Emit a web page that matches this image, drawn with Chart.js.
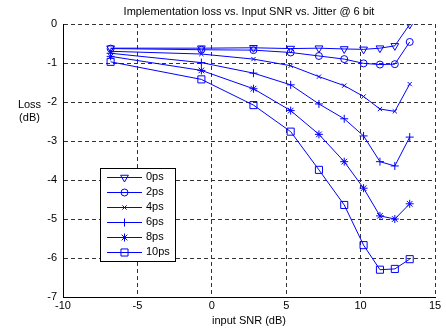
<!DOCTYPE html>
<html>
<head>
<meta charset="utf-8">
<script src="https://cdn.jsdelivr.net/npm/chart.js@4/dist/chart.umd.min.js"></script>
<style>
  html, body { margin: 0; padding: 0; background: #fff; }
  #wrap { width: 446px; height: 329px; }
</style>
</head>
<body>
<div id="wrap"><canvas id="c" width="446" height="329"></canvas></div>
<script>
// ---- data ----
const snr = [-6.8, -0.7, 2.8, 5.3, 7.2, 8.9, 10.2, 11.3, 12.3, 13.3];
const seriesNames = ['0ps', '2ps', '4ps', '6ps', '8ps', '10ps'];
const loss0ps  = [-0.62, -0.62, -0.61, -0.63, -0.62, -0.64, -0.65, -0.62, -0.56, -0.01];
const loss2ps  = [-0.63, -0.66, -0.67, -0.73, -0.82, -0.90, -1.01, -1.04, -1.03, -0.46];
const loss4ps  = [-0.70, -0.77, -0.90, -1.07, -1.35, -1.58, -1.86, -2.18, -2.24, -1.54];
const loss6ps  = [-0.75, -0.99, -1.26, -1.56, -2.05, -2.43, -2.87, -3.53, -3.64, -2.90];
const loss8ps  = [-0.83, -1.19, -1.66, -2.22, -2.83, -3.53, -4.21, -4.92, -5.00, -4.61];
const loss10ps = [-0.97, -1.42, -2.08, -2.76, -3.74, -4.64, -5.67, -6.30, -6.28, -6.03];
const xTicks = [-10, -5, 0, 5, 10, 15];
const yTicks = [0, -1, -2, -3, -4, -5, -6, -7];
const titleText = 'Implementation loss vs. Input SNR vs. Jitter @ 6 bit';
const xTitle = 'input SNR (dB)';
const yTitleLines = ['Loss', '(dB)'];

// ---- styles ----
const FONT = '"Liberation Sans", Arial, Helvetica, sans-serif';
const BLUE = '#0000ff';
const markers = [
  { style: 'triangle', rotation: 180, radius: 4.5 },
  { style: 'circle',   rotation: 0,   radius: 3.5 },
  { style: 'crossRot', rotation: 0,   radius: 3 },
  { style: 'cross',    rotation: 0,   radius: 4 },
  { style: 'star',     rotation: 0,   radius: 4 },
  { style: 'rect',     rotation: 0,   radius: 5 }
];
const allSeries = [loss0ps, loss2ps, loss4ps, loss6ps, loss8ps, loss10ps];

const datasets = allSeries.map((vals, i) => ({
  label: seriesNames[i],
  data: snr.map((x, j) => ({ x: x, y: vals[j] })),
  borderColor: BLUE,
  borderWidth: 1,
  backgroundColor: 'rgba(0,0,0,0)',
  pointStyle: markers[i].style,
  pointRotation: markers[i].rotation,
  pointRadius: markers[i].radius,
  pointHoverRadius: markers[i].radius,
  pointBorderColor: BLUE,
  pointBackgroundColor: 'rgba(0,0,0,0)',
  pointBorderWidth: 1,
  tension: 0,
  fill: false
}));

function drawMarker(ctx, m, x, y) {
  const opts = { pointStyle: m.style, rotation: m.rotation, radius: m.radius, borderWidth: 1 };
  ctx.save();
  ctx.strokeStyle = BLUE;
  ctx.fillStyle = 'rgba(0,0,0,0)';
  ctx.lineWidth = 1;
  ctx.setLineDash([]);
  if (Chart.helpers && Chart.helpers.drawPoint) {
    Chart.helpers.drawPoint(ctx, opts, x, y);
  }
  ctx.restore();
}

const decorPlugin = {
  id: 'decor',
  afterDraw(chart) {
    const ctx = chart.ctx;
    const area = chart.chartArea;
    ctx.save();
    ctx.fillStyle = '#000';
    ctx.font = '11px ' + FONT;
    // title centred over the axes
    ctx.textAlign = 'center';
    ctx.textBaseline = 'middle';
    ctx.fillText(titleText, (area.left + area.right) / 2, 12);
    // horizontal y-axis label
    ctx.fillText(yTitleLines[0], 29.5, 105);
    ctx.fillText(yTitleLines[1], 29.5, 117.5);

    // legend box inside the axes
    const bx = 100, by = 168, bw = 75, bh = 93;
    ctx.fillStyle = '#fff';
    ctx.fillRect(bx, by, bw, bh);
    ctx.strokeStyle = '#000';
    ctx.lineWidth = 1;
    ctx.strokeRect(bx + 0.5, by + 0.5, bw, bh);
    chart.data.datasets.forEach((ds, i) => {
      const y = 176.7 + i * 15.1;
      ctx.strokeStyle = BLUE;
      ctx.lineWidth = 1;
      ctx.beginPath();
      ctx.moveTo(107, Math.round(y) + 0.5);
      ctx.lineTo(142, Math.round(y) + 0.5);
      ctx.stroke();
      drawMarker(ctx, markers[i], 124.5, Math.round(y) + 0.5);
      ctx.fillStyle = '#000';
      ctx.textAlign = 'left';
      ctx.textBaseline = 'middle';
      ctx.font = '11px ' + FONT;
      ctx.fillText(ds.label, 146, y);
    });
    ctx.restore();
  }
};

new Chart(document.getElementById('c'), {
  type: 'line',
  data: { datasets: datasets },
  plugins: [decorPlugin],
  options: {
    responsive: false,
    animation: false,
    devicePixelRatio: 1,
    layout: { padding: { left: 0, right: 11, top: 24, bottom: 0 } },
    plugins: {
      legend: { display: false },
      title: { display: false },
      tooltip: { enabled: false }
    },
    scales: {
      x: {
        type: 'linear',
        min: xTicks[0],
        max: xTicks[xTicks.length - 1],
        afterBuildTicks(scale) { scale.ticks = xTicks.map(v => ({ value: v })); },
        afterFit(scale) { scale.height = 32; },
        grid: { color: '#333', lineWidth: 1, drawTicks: false },
        border: { display: true, color: '#000', width: 1, dash: [4, 3] },
        ticks: { color: '#000', font: { family: FONT, size: 11 }, padding: 2, maxRotation: 0 },
        title: { display: true, text: xTitle, color: '#000', font: { family: FONT, size: 11 }, padding: { top: 0, bottom: 1 } }
      },
      y: {
        type: 'linear',
        min: yTicks[yTicks.length - 1],
        max: yTicks[0],
        afterBuildTicks(scale) { scale.ticks = yTicks.slice().reverse().map(v => ({ value: v })); },
        afterFit(scale) { scale.width = 63; },
        grid: { color: '#333', lineWidth: 1, drawTicks: false },
        border: { display: true, color: '#000', width: 1, dash: [4, 3] },
        ticks: { color: '#000', font: { family: FONT, size: 11 }, padding: 6 }
      }
    }
  }
});
</script>
</body>
</html>
